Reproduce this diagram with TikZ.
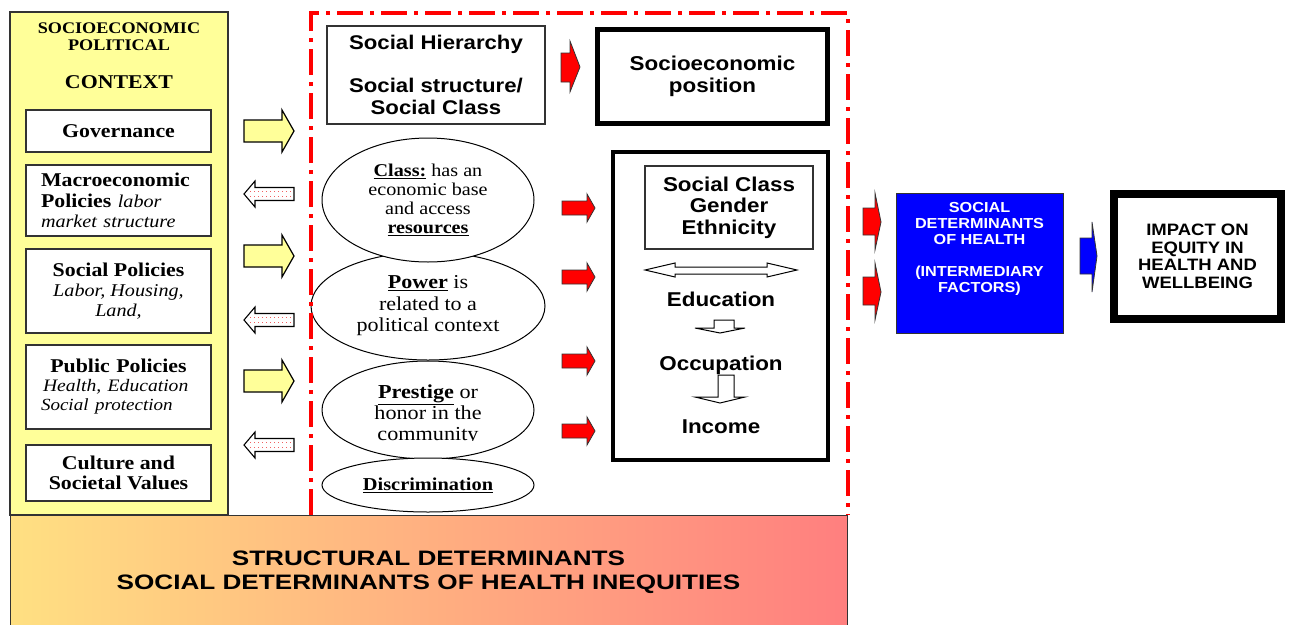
\documentclass[tikz,border=0pt]{standalone}
\usepackage{fontspec}
\setmainfont{Liberation Serif}[FakeStretch=1.12]
\newfontfamily\arialf{Liberation Sans}[FakeStretch=1.12]
\newfontfamily\arialw{Liberation Sans}[FakeStretch=1.25]
\usetikzlibrary{shapes.geometric}
\definecolor{ylw}{HTML}{FFFF99}
\definecolor{gradL}{HTML}{FFE082}
\definecolor{gradR}{HTML}{FF7F7F}
\definecolor{bord}{HTML}{333333}
\definecolor{dotred}{HTML}{F06060}
\begin{document}
\begin{tikzpicture}[x=1pt,y=-1pt,
  box/.style={draw=bord, line width=1.2pt, fill=white, inner sep=0pt},
  ell/.style={ellipse, draw=black, line width=1pt, fill=white, inner sep=0pt},
  serb/.style={font=\bfseries\fontsize{19.5}{20}\selectfont},
  arb/.style={font=\arialf\bfseries\fontsize{20}{21.5}\selectfont},
  yarr/.pic={\draw[fill=ylw, line width=1.2pt, line join=miter] (-25,-11) -- (13,-11) -- (13,-21) -- (25,0) -- (13,21) -- (13,11) -- (-25,11) -- cycle;},
  warr/.pic={\draw[fill=white, line width=1.1pt] (-25,0) -- (-14,-13) -- (-14,-6.5) -- (25,-6.5) -- (25,6.5) -- (-14,6.5) -- (-14,13) -- cycle;
    \draw[dotred, line width=0.7pt, dash pattern=on 1pt off 3pt] (-19,-3) -- (23,-3) (-19,2.5) -- (23,2.5);},
  rarr/.pic={\draw[fill=red, line width=0.8pt, draw=black!80] (-16.5,-7) -- (8.5,-7) -- (8.5,-14) -- (16.5,0) -- (8.5,14) -- (8.5,7) -- (-16.5,7) -- cycle;}
]
\useasboundingbox (0,0) rectangle (1289,624);

% left context column
\node[draw=bord, line width=1.5pt, fill=ylw, minimum width=218pt, minimum height=503pt, inner sep=0pt] (ctx) at (119,263.5) {};
\node[font=\bfseries\fontsize{16.2}{17}\selectfont, anchor=base, inner sep=0pt] (t1) at (119,33) {SOCIOECONOMIC};
\node[font=\bfseries\fontsize{16.2}{17}\selectfont, anchor=base, inner sep=0pt] (t2) at (119,50) {POLITICAL};
\node[font=\bfseries\fontsize{19.5}{20}\selectfont, anchor=base, inner sep=0pt] (t3) at (119,88) {CONTEXT};

\node[box, serb, minimum width=185pt, minimum height=42pt] (gov) at (118.5,131) {Governance};
\node[box, minimum width=185pt, minimum height=71pt, text width=185pt, align=left, font=\fontsize{19.5}{20.5}\selectfont] (macro) at (118.5,200.5)
  {\hspace*{15pt}\textbf{Macroeconomic}\\\hspace*{15pt}\textbf{Policies} {\itshape\fontsize{18}{20}\selectfont labor}\\\hspace*{15pt}{\itshape\fontsize{18}{20}\selectfont market structure}};
\node[box, minimum width=185pt, minimum height=84pt, align=center, font=\fontsize{19.5}{20}\selectfont] (socpol) at (118.5,291)
  {\textbf{Social Policies}\\{\itshape\fontsize{18}{20}\selectfont Labor, Housing,}\\{\itshape\fontsize{18}{20}\selectfont Land,}};
\node[box, minimum width=185pt, minimum height=84pt, text width=185pt, align=left, font=\fontsize{19.5}{19}\selectfont] (pubpol) at (118.5,387)
  {\makebox[185pt]{\textbf{Public Policies}}\\\hspace*{17pt}{\itshape\fontsize{17.5}{19}\selectfont Health, Education}\\\hspace*{15pt}{\itshape\fontsize{17}{19}\selectfont Social protection}};
\node[box, serb, minimum width=185pt, minimum height=56pt, align=center] (cult) at (118.5,473) {Culture and\\Societal Values};

% arrows between context and structure
\pic at (269,131) {yarr};
\pic at (269,256) {yarr};
\pic at (269,381) {yarr};
\pic at (269,194) {warr};
\pic at (269,320) {warr};
\pic at (269,445) {warr};

% bottom gradient band
\node[draw=bord, line width=1pt, left color=gradL, right color=gradR, minimum width=837pt, minimum height=115pt, inner sep=0pt,
      align=center, font=\arialw\bfseries\fontsize{20.9}{24}\selectfont] (struct) at (428.5,572.5)
  {STRUCTURAL DETERMINANTS\\SOCIAL DETERMINANTS OF HEALTH INEQUITIES};

% social hierarchy
\node[box, minimum width=218pt, minimum height=98pt, align=center, font=\arialf\bfseries\fontsize{19.8}{21.5}\selectfont] (hier) at (436,75)
  {Social Hierarchy\\[21.5pt]Social structure/\\Social Class};
\draw[fill=red, line width=0.8pt, draw=black!80] (561,53) -- (570,53) -- (570,41) -- (580,67) -- (570,92) -- (570,82) -- (561,82) -- cycle;
\node[draw, line width=5pt, fill=white, minimum width=230pt, minimum height=94pt, inner sep=0pt, align=center, arb] (sep) at (712.5,76.5)
  {Socioeconomic\\position};

% ellipses
\node[ell, minimum width=234pt, minimum height=108pt, align=center, font=\fontsize{19.7}{21.5}\selectfont] (power) at (428,306)
  {\underline{\textbf{Power}} is\\related to a\\political context};
\node[ell, minimum width=212pt, minimum height=124pt, align=center, font=\fontsize{18}{19}\selectfont] (class) at (428,200)
  {\underline{\textbf{Class:}} has an\\economic base\\and access\\\underline{\textbf{resources}}};
\node[ell, minimum width=212pt, minimum height=98pt] (prest) at (428,410) {};
\begin{scope}
  \clip (320,370) rectangle (540,440);
  \node[align=center, inner sep=0pt, font=\fontsize{19.8}{21}\selectfont] (prestT) at (428,415)
    {\underline{\textbf{Prestige}} or\\honor in the\\community};
\end{scope}
\node[ell, minimum width=212pt, minimum height=54pt, font=\bfseries\fontsize{18.2}{20}\selectfont] (disc) at (428,485)
  {\underline{Discrimination}};

% red arrows toward socioeconomic position box
\pic at (578.5,208) {rarr};
\pic at (578.5,277) {rarr};
\pic at (578.5,361) {rarr};
\pic at (578.5,431) {rarr};

% socioeconomic position detail box
\node[draw, line width=3.5pt, fill=white, minimum width=215pt, minimum height=308pt, inner sep=0pt] (sepbox) at (720.5,306) {};
\node[box, minimum width=168pt, minimum height=83pt, align=center, font=\arialf\bfseries\fontsize{20}{21.5}\selectfont] (scge) at (729,207.5)
  {Social Class\\Gender\\Ethnicity};
\draw[fill=white, line width=1pt] (645,270) -- (675,263) -- (675,267) -- (767,267) -- (767,263) -- (797,270) -- (767,277) -- (767,274) -- (675,274) -- (675,277) -- cycle;
\node[arb, anchor=base, inner sep=0pt] (edu) at (721,306) {Education};
\draw[fill=white, line width=1pt] (714,320) -- (734,320) -- (734,328) -- (745,328) -- (720,333) -- (695,328) -- (714,328) -- cycle;
\node[arb, anchor=base, inner sep=0pt] (occ) at (721,370) {Occupation};
\draw[fill=white, line width=1pt] (718,375) -- (734,375) -- (734,397) -- (745,397) -- (720,403) -- (695,397) -- (718,397) -- cycle;
\node[arb, anchor=base, inner sep=0pt] (inc) at (721,433) {Income};

% red dash-dot frame of structural determinants
\draw[red, line width=3.5pt, dash pattern=on 26pt off 7pt on 4pt off 7pt] (311,515) -- (311,13) -- (848,13) -- (848,515);

% intermediary determinants
\draw[fill=red, line width=0.8pt, draw=black!80] (863,208) -- (875,208) -- (875,193) -- (881,222) -- (875,250) -- (875,235) -- (863,235) -- cycle;
\draw[fill=red, line width=0.8pt, draw=black!80] (863,277) -- (875,277) -- (875,263) -- (881,292) -- (875,320) -- (875,305) -- (863,305) -- cycle;
\node[draw=bord, line width=1pt, fill=blue, minimum width=167pt, minimum height=140pt, inner sep=0pt] (sdh) at (979.5,263) {};
\node[anchor=north, inner sep=0pt, text=white, align=center, font=\arialf\bfseries\fontsize{14.5}{16}\selectfont] (sdhT) at (979.5,202.5)
  {SOCIAL\\DETERMINANTS\\OF HEALTH\\[16pt](INTERMEDIARY\\FACTORS)};
\draw[fill=blue, line width=0.8pt, draw=black!80] (1080,238) -- (1092,238) -- (1092,222) -- (1097,256) -- (1092,292) -- (1092,274) -- (1080,274) -- cycle;
\node[draw, line width=8pt, fill=white, minimum width=167pt, minimum height=125pt, inner sep=0pt, align=center,
      font=\arialf\bfseries\fontsize{16.5}{17.5}\selectfont] (imp) at (1197.5,256.5)
  {IMPACT ON\\EQUITY IN\\HEALTH AND\\WELLBEING};
\end{tikzpicture}
\end{document}
